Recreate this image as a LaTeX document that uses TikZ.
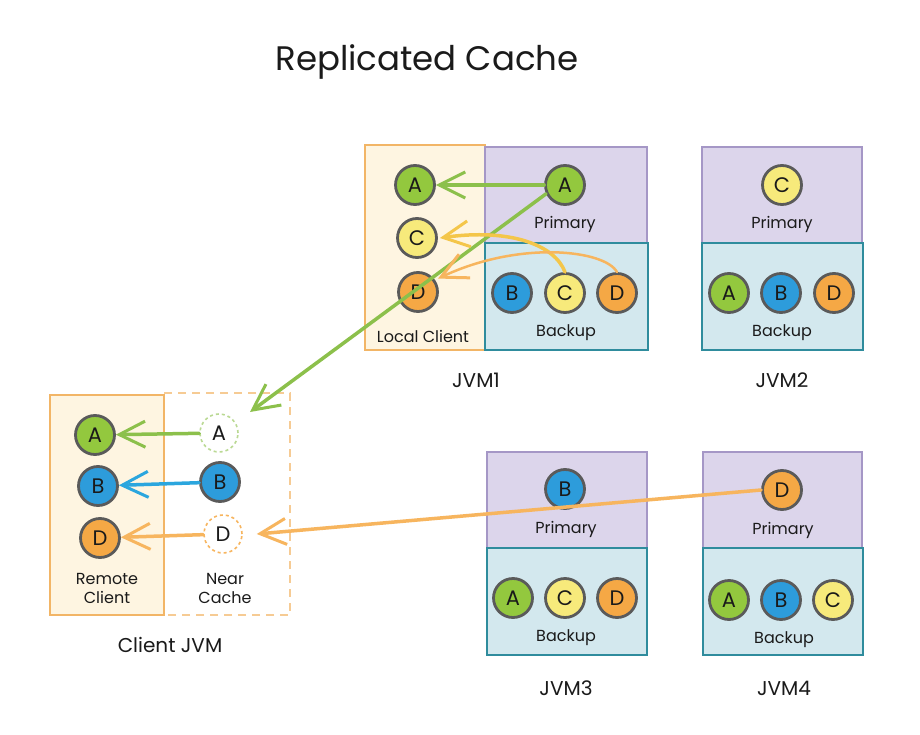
\documentclass[tikz,border=0pt]{standalone}
\usepackage{fontspec}
\setmainfont{Poppins}
\usetikzlibrary{arrows.meta}
\definecolor{cgreen}{HTML}{93C83E}
\definecolor{cblue}{HTML}{2D9CDB}
\definecolor{cyellow}{HTML}{F7EA7B}
\definecolor{corange}{HTML}{F5A845}
\definecolor{agreen}{HTML}{8CC04B}
\definecolor{ablue}{HTML}{2BA6DE}
\definecolor{ayellow}{HTML}{F4C64A}
\definecolor{aorange}{HTML}{F7B55E}
\definecolor{purfill}{HTML}{DCD5EB}
\definecolor{purline}{HTML}{A597C6}
\definecolor{bluefill}{HTML}{D3E8EE}
\definecolor{blueline}{HTML}{2F8C9D}
\definecolor{creamfill}{HTML}{FEF5E1}
\definecolor{creamline}{HTML}{F2B566}
\definecolor{ring}{HTML}{5A5A5A}
\definecolor{txt}{HTML}{1A1A1A}
\tikzset{
  ball/.style={circle, minimum size=39pt, inner sep=0pt, draw=ring, line width=2.8pt, font=\fontsize{21}{21}\selectfont, text=txt},
  gball/.style={ball, fill=cgreen},
  bball/.style={ball, fill=cblue},
  yball/.style={ball, fill=cyellow},
  oball/.style={ball, fill=corange},
  ghost/.style={circle, minimum size=38pt, inner sep=0pt, dashed, line width=1.6pt, fill=white, font=\fontsize{21}{21}\selectfont, text=txt},
  pribox/.style={fill=purfill, draw=purline, line width=1.2pt},
  bakbox/.style={fill=bluefill, draw=blueline, line width=1.5pt},
  clibox/.style={fill=creamfill, draw=creamline, line width=1.5pt},
  lbl/.style={font=\fontsize{16}{19}\selectfont, text=txt, align=center},
  jvm/.style={font=\fontsize{20}{22}\selectfont, text=txt},
  arr/.style={line width=3.5pt, line cap=round, -{Straight Barb[length=26pt, width=26pt, line width=3pt]}},
}
\begin{document}
\begin{tikzpicture}[x=1pt,y=-1pt]
\useasboundingbox[fill=white] (0,0) rectangle (920,735);
\node[font=\fontsize{34}{38}\selectfont, text=txt] (title) at (427,62) {Replicated Cache};

% JVM1
\draw[clibox] (365,145) rectangle (485,350);
\draw[pribox] (485,147) rectangle (647,243);
\draw[bakbox] (485,243) rectangle (648,350);
\node[gball] (l1A) at (415,185) {A};
\node[yball] (l1C) at (417,238) {C};
\node[oball] (l1D) at (418,292) {D};
\node[lbl] (l1lab) at (423,336) {Local Client};
\node[gball] (p1A) at (565,185) {A};
\node[lbl] (p1lab) at (565,224) {Primary};
\node[bball] (b1B) at (512,293) {B};
\node[yball] (b1C) at (565,293) {C};
\node[oball] (b1D) at (617,293) {D};
\node[lbl] (b1lab) at (566,333) {Backup};
\node[jvm] (jvm1) at (476,380) {JVM1};

% JVM2
\draw[pribox] (702,147) rectangle (862,243);
\draw[bakbox] (702,243) rectangle (863,350);
\node[yball] (p2C) at (782,185) {C};
\node[lbl] (p2lab) at (782,224) {Primary};
\node[gball] (b2A) at (729,293) {A};
\node[bball] (b2B) at (781,293) {B};
\node[oball] (b2D) at (834,293) {D};
\node[lbl] (b2lab) at (782,333) {Backup};
\node[jvm] (jvm2) at (782,380) {JVM2};

% JVM3
\draw[pribox] (487,452) rectangle (647,548);
\draw[bakbox] (487,548) rectangle (647,655);
\node[bball] (p3B) at (565,489) {B};
\node[lbl] (p3lab) at (566,529) {Primary};
\node[gball] (b3A) at (513,598) {A};
\node[yball] (b3C) at (565,598) {C};
\node[oball] (b3D) at (617,598) {D};
\node[lbl] (b3lab) at (566,638) {Backup};
\node[jvm] (jvm3) at (566,688) {JVM3};

% JVM4
\draw[pribox] (703,452) rectangle (862,548);
\draw[bakbox] (703,548) rectangle (863,655);
\node[oball] (p4D) at (782,490) {D};
\node[lbl] (p4lab) at (783,530) {Primary};
\node[gball] (b4A) at (729,600) {A};
\node[bball] (b4B) at (781,600) {B};
\node[yball] (b4C) at (833,600) {C};
\node[lbl] (b4lab) at (784,640) {Backup};
\node[jvm] (jvm4) at (784,688) {JVM4};

% Client JVM
\draw[creamline!70, line width=1.3pt, dash pattern=on 8pt off 6pt] (164,393) -- (290,393) -- (290,615) -- (164,615);
\draw[clibox] (50,395) rectangle (164,615);
\node[gball] (rA) at (95,435) {A};
\node[bball] (rB) at (98,486) {B};
\node[oball] (rD) at (100,538) {D};
\node[lbl] (rlab) at (107,588) {Remote\\Client};
\node[ghost, draw=agreen!60] (nA) at (219,433) {A};
\node[bball] (nB) at (220,482) {B};
\node[ghost, draw=aorange] (nD) at (223,534) {D};
\node[lbl] (nlab) at (225,588) {Near\\Cache};
\node[jvm] (cjvm) at (170,645) {Client JVM};
\coordinate (cjtip) at (250,412);

% arrows
\draw[arr, agreen] (p1A) -- (l1A);
\draw[arr, agreen] (p1A.205) -- (cjtip);
\draw[arr, ayellow] (b1C.north) .. controls (555,245) and (510,228) .. ([xshift=2pt]l1C.east);
\draw[arr, aorange, line width=2.5pt] (b1D.north) .. controls (605,250) and (520,240) .. ([xshift=4pt]l1D.40);
\draw[arr, agreen] (nA) -- (rA);
\draw[arr, ablue] (nB) -- (rB);
\draw[arr, aorange] (nD) -- (rD);
\draw[arr, aorange] (p4D.west) -- ([xshift=14pt]nD.east);
\end{tikzpicture}
\end{document}
